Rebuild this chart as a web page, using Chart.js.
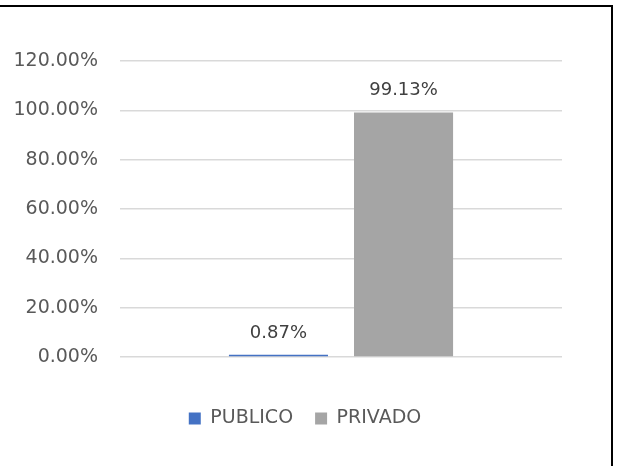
<!DOCTYPE html>
<html>
<head>
<meta charset="utf-8">
<script src="https://cdn.jsdelivr.net/npm/chart.js@4"></script>
<style>
  html, body { margin: 0; padding: 0; background: #fff; }
  #wrap { position: relative; width: 618px; height: 466px; }
  #marco {
    position: absolute; left: 0; top: 5px; width: 613px; height: 461px;
    border-top: 2px solid #000; border-right: 2px solid #000;
    pointer-events: none; box-sizing: border-box;
  }
</style>
</head>
<body>
<div id="wrap">
  <canvas id="c-sector" width="618" height="466"></canvas>
  <div id="marco"></div>
</div>
<script>
// Datos del grafico
const categorias = [''];
const sectores = ['PUBLICO', 'PRIVADO'];
const valPublico = [0.0087];
const valPrivado = [0.9913];
const colores = ['#4472C4', '#A5A5A5'];
const ejeY = { min: 0, max: 1.2, paso: 0.2 };

const fuente = "'DejaVu Sans', sans-serif";

// Etiquetas de valor sobre cada barra
const etiquetasBarras = {
    id: 'etiquetasBarras',
    afterDatasetsDraw(chart) {
        const ctx = chart.ctx;
        ctx.save();
        ctx.font = '18px ' + fuente;
        ctx.fillStyle = '#404040';
        ctx.textAlign = 'center';
        ctx.textBaseline = 'bottom';
        chart.data.datasets.forEach((ds, i) => {
            chart.getDatasetMeta(i).data.forEach((bar, j) => {
                const txt = (ds.data[j] * 100).toFixed(2) + '%';
                ctx.fillText(txt, bar.x, bar.y - 13);
            });
        });
        ctx.restore();
    }
};

// La leyenda va centrada en todo el lienzo, no solo en el area del grafico
const moverLeyenda = {
    id: 'moverLeyenda',
    afterLayout(chart) {
        const lg = chart.legend;
        if (!lg) return;
        const dx = 24;
        lg.left += dx;
        lg.right += dx;
        (lg.legendHitBoxes || []).forEach(b => { b.left += dx; });
    }
};

new Chart(document.getElementById('c-sector'), {
    type: 'bar',
    data: {
        labels: categorias,
        datasets: [
            { label: sectores[0], data: valPublico, backgroundColor: colores[0] },
            { label: sectores[1], data: valPrivado, backgroundColor: colores[1] }
        ]
    },
    options: {
        responsive: false,
        animation: false,
        categoryPercentage: 0.566,
        barPercentage: 0.792,
        layout: { padding: { left: 0, right: 56, top: 61, bottom: 28 } },
        scales: {
            x: {
                grid: { display: false },
                border: { display: false },
                ticks: { display: false },
                afterFit: s => { s.height = 30; }
            },
            y: {
                min: ejeY.min,
                max: ejeY.max,
                border: { display: false },
                grid: { color: '#d9d9d9', lineWidth: 1.5, drawTicks: false },
                afterFit: s => { s.width = 120; },
                ticks: {
                    stepSize: ejeY.paso,
                    padding: 22,
                    color: '#595959',
                    font: { family: fuente, size: 19 },
                    callback: v => (v * 100).toFixed(2) + '%'
                }
            }
        },
        plugins: {
            tooltip: { enabled: false },
            legend: {
                position: 'bottom',
                labels: {
                    boxWidth: 12,
                    boxHeight: 12,
                    padding: 22,
                    color: '#595959',
                    font: { family: fuente, size: 19 }
                }
            }
        }
    },
    plugins: [etiquetasBarras, moverLeyenda]
});
</script>
</body>
</html>
